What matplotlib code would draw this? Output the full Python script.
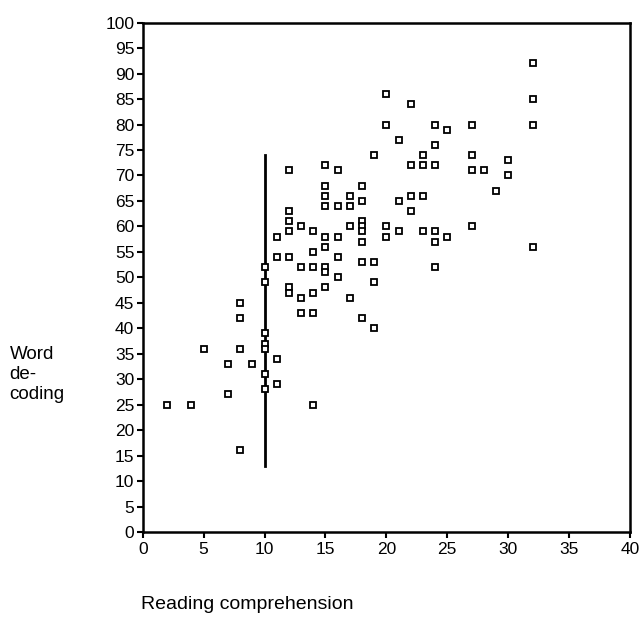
import matplotlib
matplotlib.use("Agg")
import matplotlib.pyplot as plt

# Reading comprehension (x) vs word decoding (y)
reading = [2, 4, 5, 7, 7, 8, 8, 8, 8, 9,
           10, 10, 10, 10, 10, 10, 10,
           11, 11, 11, 11,
           12, 12, 12, 12, 12, 12, 12,
           13, 13, 13, 13,
           14, 14, 14, 14, 14, 14,
           15, 15, 15, 15, 15, 15, 15, 15, 15,
           16, 16, 16, 16, 16,
           17, 17, 17, 17,
           18, 18, 18, 18, 18, 18, 18, 18,
           19, 19, 19, 19,
           20, 20, 20, 20,
           21, 21, 21,
           22, 22, 22, 22,
           23, 23, 23, 23,
           24, 24, 24, 24, 24, 24,
           25, 25,
           27, 27, 27, 27,
           28, 29, 30, 30,
           32, 32, 32, 32]
decoding = [25, 25, 36, 33, 27, 45, 42, 36, 16, 33,
            52, 49, 39, 37, 36, 31, 28,
            58, 54, 34, 29,
            71, 63, 61, 59, 54, 48, 47,
            60, 52, 46, 43,
            59, 55, 52, 47, 43, 25,
            72, 68, 66, 64, 58, 56, 52, 51, 48,
            71, 64, 58, 54, 50,
            66, 64, 60, 46,
            68, 65, 61, 60, 59, 57, 53, 42,
            74, 53, 49, 40,
            86, 80, 60, 58,
            77, 65, 59,
            84, 72, 66, 63,
            74, 72, 66, 59,
            80, 76, 72, 59, 57, 52,
            79, 58,
            80, 74, 71, 60,
            71, 67, 73, 70,
            92, 85, 80, 56]

cutoff_x = 10
cutoff_range = [13, 74]

x_ticks = list(range(0, 41, 5))
y_ticks = list(range(0, 101, 5))

fig = plt.figure(figsize=(6.39, 6.19), dpi=100)
ax = fig.add_axes([0.2233, 0.1406, 0.7626, 0.8228])

ax.plot([cutoff_x, cutoff_x], cutoff_range, color="black", linewidth=2)
ax.plot(reading, decoding, linestyle="none", marker="s", markersize=4.5,
        markerfacecolor="white", markeredgecolor="black", markeredgewidth=1.3)

ax.set_xlim(0, 40)
ax.set_ylim(0, 100)
ax.set_xticks(x_ticks)
ax.set_yticks(y_ticks)

for spine in ax.spines.values():
    spine.set_linewidth(1.8)
ax.tick_params(direction="out", length=4, width=1.5, labelsize=12.5)
ax.tick_params(axis="x", pad=3)
ax.tick_params(axis="y", pad=2)
for lbl in ax.get_xticklabels() + ax.get_yticklabels():
    lbl.set_fontfamily("Liberation Sans")

fig.text(0.015, 0.395, "Word\nde-\ncoding", fontsize=13.5,
         family="Liberation Sans", ha="left", va="center", linespacing=1.2)
fig.text(0.221, 0.016, "Reading comprehension", fontsize=14,
         family="Liberation Sans", ha="left", va="baseline")

fig.savefig("out.png", dpi=100)
plt.close(fig)
